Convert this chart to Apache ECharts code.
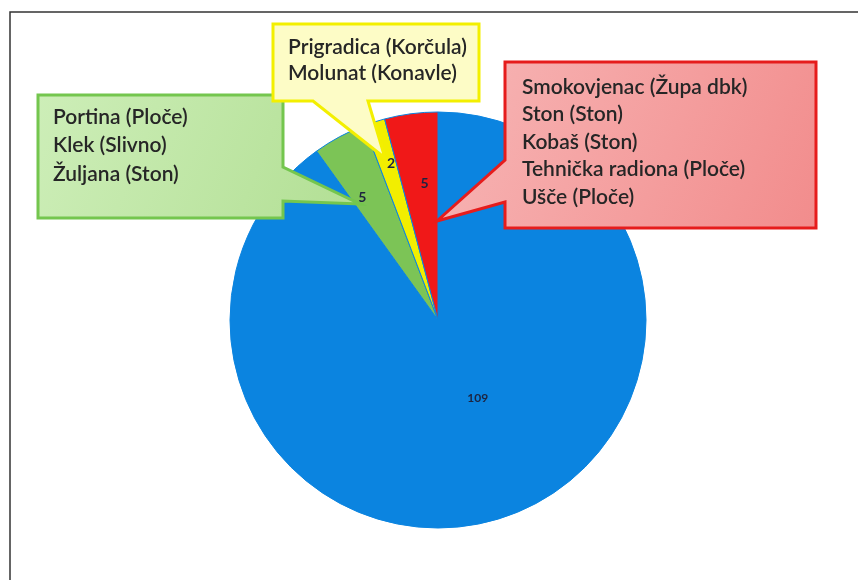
<!DOCTYPE html>
<html>
<head>
<meta charset="utf-8">
<style>
    html, body { margin: 0; padding: 0; background: #fff; }
    #pie { width: 858px; height: 580px; }
</style>
<script src="https://cdn.jsdelivr.net/npm/echarts@6/dist/echarts.min.js"></script>
</head>
<body>
<div id="pie"></div>
<script>
    // podaci
    var sliceNames = ['Ostalo', 'Zeleno', 'Žuto', 'Crveno'];
    var sliceValues = [109, 5, 2, 5];
    var greenLines = ['Portina (Ploče)', 'Klek (Slivno)', 'Žuljana (Ston)'];
    var yellowLines = ['Prigradica (Korčula)', 'Molunat (Konavle)'];
    var redLines = ['Smokovjenac (Župa dbk)', 'Ston (Ston)', 'Kobaš (Ston)', 'Tehnička radiona (Ploče)', 'Ušče (Ploče)'];

    var colors = ['#0b84e0', '#7cc456', '#f2ee00', '#f01818'];
    var labelOffsets = [[7, -24], [-8, 3], [-3, -20], [5, 5]];
    var center = [438, 320];
    var R = 208;
    var font = 'Lato, "Liberation Sans", sans-serif';

    // oblačić s tekstom
    function callout(points, fill, stroke, lines, x, y, lh) {
        var els = [{
            type: 'polygon',
            z: 10,
            shape: { points: points },
            style: { fill: fill, stroke: stroke, lineWidth: 3, lineJoin: 'miter' }
        }];
        for (var i = 0; i < lines.length; i++) {
            els.push({
                type: 'text',
                z: 11,
                x: x,
                y: y + i * lh,
                style: {
                    text: lines[i],
                    fill: '#262626',
                    font: '600 21px ' + font,
                    textVerticalAlign: 'middle'
                }
            });
        }
        return els;
    }

    var greenFill = new echarts.graphic.LinearGradient(0, 0, 1, 1, [
        { offset: 0, color: '#cdeeb8' }, { offset: 1, color: '#b2df94' }
    ]);
    var redFill = new echarts.graphic.LinearGradient(0, 0, 1, 1, [
        { offset: 0, color: '#f7b6b6' }, { offset: 1, color: '#f28c8c' }
    ]);

    var graphics = [{
        type: 'rect',
        z: 0,
        shape: { x: 10, y: 12, width: 900, height: 620 },
        style: { fill: 'none', stroke: '#333', lineWidth: 1.5 }
    }];
    graphics = graphics.concat(
        callout([[38, 95], [283, 95], [283, 167], [360, 204], [283, 201], [283, 218], [38, 218]],
            greenFill, '#74c64e', greenLines, 53, 117, 28.5),
        callout([[273, 24], [479, 24], [479, 101], [368, 101], [385, 158], [313, 101], [273, 101]],
            '#fdfcc6', '#f3ef00', yellowLines, 288, 47, 26.5),
        callout([[505, 62], [816, 62], [816, 228], [505, 228], [505, 202], [437, 221], [505, 160]],
            redFill, '#e61c1c', redLines, 522, 87, 27.5)
    );

    var mainData = sliceValues.map(function (v, i) {
        return {
            name: sliceNames[i],
            value: v,
            itemStyle: { color: colors[i] },
            label: { show: i === 0, offset: labelOffsets[i] }
        };
    });
    var ringData = sliceValues.map(function (v, i) {
        return {
            name: sliceNames[i],
            value: v,
            label: { show: i !== 0, offset: labelOffsets[i] }
        };
    });

    var myChart = echarts.init(document.getElementById('pie'));
    var option = {
        backgroundColor: '#fff',
        animation: false,
        series: [{
            type: 'pie',
            center: center,
            radius: [0, R],
            startAngle: 90,
            clockwise: true,
            avoidLabelOverlap: false,
            silent: true,
            itemStyle: { borderColor: '#0b84e0', borderWidth: 1 },
            label: {
                position: 'inside',
                formatter: '{c}',
                color: '#1d2440',
                fontFamily: font,
                fontWeight: 'bold',
                fontSize: 12
            },
            labelLine: { show: false },
            data: mainData
        }, {
            // prozirni prsten samo za oznake malih isječaka
            type: 'pie',
            center: center,
            radius: [100, 180],
            startAngle: 90,
            clockwise: true,
            avoidLabelOverlap: false,
            silent: true,
            itemStyle: { color: 'rgba(0,0,0,0)' },
            label: {
                position: 'inside',
                formatter: '{c}',
                color: '#1d2440',
                fontFamily: font,
                fontWeight: 'bold',
                fontSize: 14
            },
            labelLine: { show: false },
            data: ringData
        }],
        graphic: graphics
    };
    myChart.setOption(option);
</script>
</body>
</html>
